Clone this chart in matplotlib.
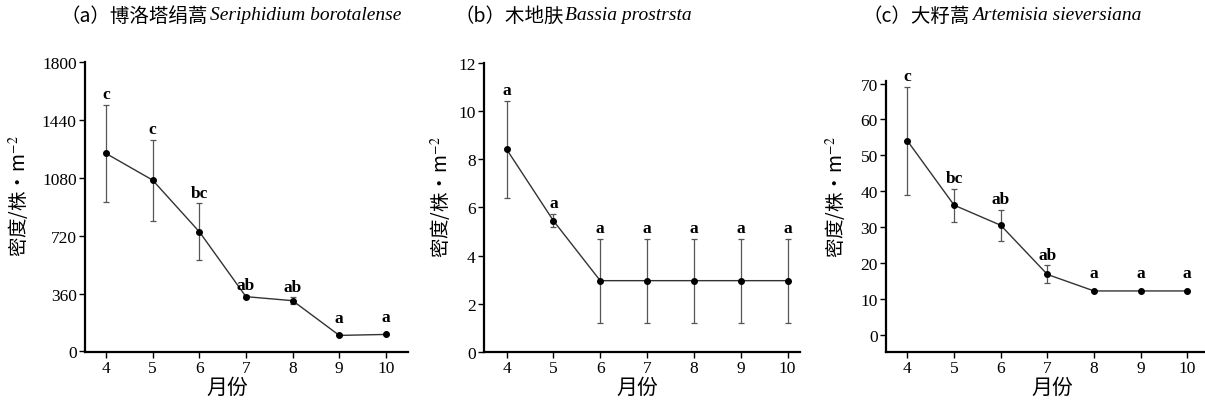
import matplotlib
matplotlib.use("Agg")
import matplotlib.pyplot as plt

plt.rcParams["font.family"] = ["Liberation Serif", "Noto Sans CJK SC"]
plt.rcParams["mathtext.fontset"] = "stix"

months = [4, 5, 6, 7, 8, 9, 10]

# (a) Seriphidium borotalense
dens_a = [1232, 1066, 745, 341, 316, 100, 106]
err_a = [300, 252, 176, 8, 20, 0, 0]
sig_a = ["c", "c", "bc", "ab", "ab", "a", "a"]
yticks_a = [0, 360, 720, 1080, 1440, 1800]

# (b) Bassia prostrsta
dens_b = [8.42, 5.45, 2.96, 2.96, 2.96, 2.96, 2.96]
err_b = [2.01, 0.27, 1.74, 1.74, 1.74, 1.74, 1.74]
sig_b = ["a", "a", "a", "a", "a", "a", "a"]
yticks_b = [0, 2, 4, 6, 8, 10, 12]

# (c) Artemisia sieversiana
dens_c = [54.0, 36.1, 30.5, 16.8, 12.2, 12.2, 12.2]
err_c = [15.0, 4.6, 4.3, 2.5, 0, 0, 0]
sig_c = ["c", "bc", "ab", "ab", "a", "a", "a"]
yticks_c = [0, 10, 20, 30, 40, 50, 60, 70]

panels = [
    dict(rect=[0.0705, 0.122, 0.268, 0.721], y=dens_a, e=err_a, sig=sig_a,
         yt=yticks_a, ylim=(-3, 1800), xlim=(3.55, 10.47),
         cn="（a）博洛塔绢蒿", la="Seriphidium borotalense", tx=61,
         ylab=(-0.205, 0.54), xlab=(0.44, -0.12)),
    dict(rect=[0.4017, 0.122, 0.262, 0.719], y=dens_b, e=err_b, sig=sig_b,
         yt=yticks_b, ylim=(0, 12), xlim=(3.52, 10.26),
         cn="（b）木地肤", la="Bassia prostrsta", tx=454,
         ylab=(-0.137, 0.54), xlab=(0.484, -0.12)),
    dict(rect=[0.7353, 0.122, 0.2647, 0.674], y=dens_c, e=err_c, sig=sig_c,
         yt=yticks_c, ylim=(-4.8, 70.7), xlim=(3.54, 10.38),
         cn="（c）大籽蒿", la="Artemisia sieversiana", tx=863,
         ylab=(-0.157, 0.575), xlab=(0.52, -0.13)),
]

fig = plt.figure(figsize=(12.05, 4.02), dpi=100)

for p in panels:
    ax = fig.add_axes(p["rect"])
    ax.errorbar(months, p["y"], yerr=p["e"], fmt="none", ecolor="#555555",
                elinewidth=0.9, capsize=2.5, capthick=0.9)
    ax.plot(months, p["y"], color="#333333", linewidth=1.0, marker="o",
            markersize=4, markerfacecolor="black", markeredgecolor="black")
    for x, y, e, s in zip(months, p["y"], p["e"], p["sig"]):
        off = 2 if e > 0 else 7
        ax.annotate(s, (x, y + e), xytext=(0, off), textcoords="offset points",
                    ha="center", va="bottom", fontsize=12.5, fontweight="bold",
                    family="Liberation Serif", annotation_clip=False)
    ax.set_xlim(*p["xlim"])
    ax.set_ylim(*p["ylim"])
    ax.set_xticks(months)
    ax.set_yticks(p["yt"])
    ax.tick_params(labelsize=12.5, length=4, width=1, direction="out", pad=2)
    for side in ["top", "right"]:
        ax.spines[side].set_visible(False)
    for side in ["left", "bottom"]:
        ax.spines[side].set_linewidth(1.6)
    ax.set_xlabel("月份", fontsize=15, family=["Noto Sans CJK SC"])
    ax.xaxis.set_label_coords(*p["xlab"])
    ax.xaxis.label.set_va("center")
    ax.set_ylabel("密度/株·m$^{-2}$", fontsize=14,
                  family=["Noto Sans CJK SC", "DejaVu Sans"])
    ax.yaxis.set_label_coords(*p["ylab"])
    ax.yaxis.label.set_va("center")

    t1 = fig.text(p["tx"] / 1205, 1 - 16 / 402, p["cn"], fontsize=14,
                  family=["Noto Sans CJK SC"], va="center", ha="left")
    ax.annotate(p["la"], xy=(1, 0.5), xycoords=t1, xytext=(1, 0),
                textcoords="offset points", va="center", ha="left",
                fontsize=14, style="italic", family="Liberation Serif",
                annotation_clip=False)

fig.savefig("out.png", dpi=100)
